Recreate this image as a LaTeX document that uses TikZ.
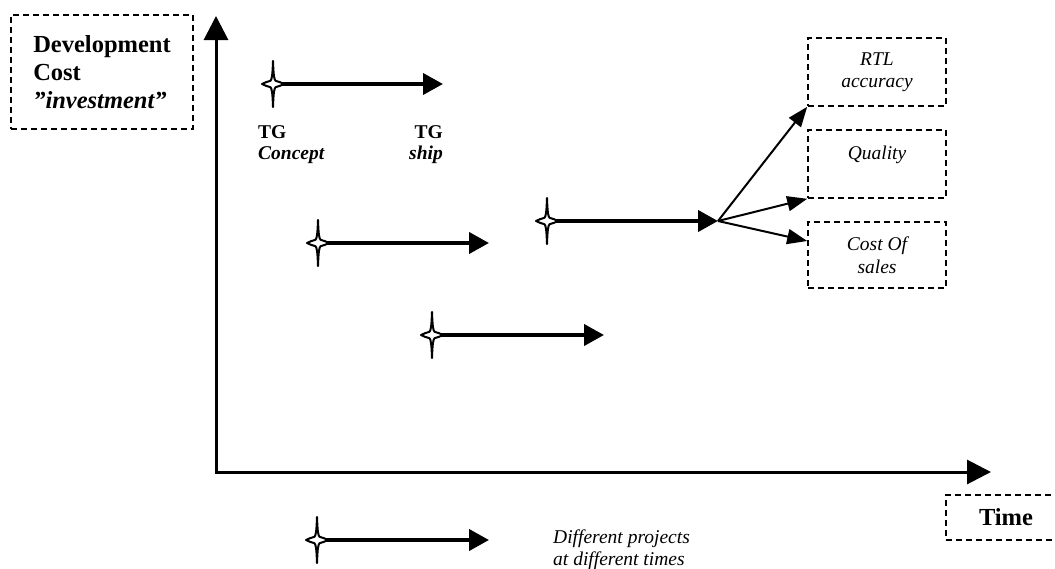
\documentclass[tikz,border=0pt]{standalone}
\usepackage{fontspec}
\setmainfont{Liberation Serif}
\usetikzlibrary{arrows.meta}

\begin{document}
\begin{tikzpicture}[x=1pt,y=-1pt,
  dashbox/.style={draw, line width=1.6pt, dash pattern=on 6pt off 4pt, inner sep=0pt},
  axis/.style={line width=3pt, {Triangle[length=24pt,width=24pt]}-{Triangle[length=24pt,width=24pt]}},
  proj/.style={line width=4pt, -{Triangle[length=20pt,width=21pt]}},
  fanarrow/.style={line width=2pt, -{Triangle[length=20pt,width=15pt]}},
  bigfont/.style={font=\fontsize{24.5}{28}\selectfont\bfseries},
  smallfont/.style={font=\fontsize{19.5}{22.5}\selectfont\itshape},
  tgfont/.style={font=\fontsize{19.5}{21}\selectfont\bfseries},
  % four-pointed milestone star: long vertical spikes, short horizontal lens
  pics/sparkle/.style={code={
    \filldraw[fill=white, line width=2pt, line join=round]
      (0,-23) .. controls (0.5,-8) and (1.2,-4.5) .. (2.6,-3.2)
              .. controls (5.5,-2.6) and (8.5,-1.2) .. (11,0)
              .. controls (8.5,1.2) and (5.5,2.6) .. (2.6,3.2)
              .. controls (1.2,4.5) and (0.5,8) .. (0,23)
              .. controls (-0.5,8) and (-1.2,4.5) .. (-2.6,3.2)
              .. controls (-5.5,2.6) and (-8.5,1.2) .. (-11,0)
              .. controls (-8.5,-1.2) and (-5.5,-2.6) .. (-2.6,-3.2)
              .. controls (-1.2,-4.5) and (-0.5,-8) .. (0,-23) -- cycle;
  }}
]
\clip (0,0) rectangle (1055,568);
\useasboundingbox (0,0) rectangle (1055,568);

% axes
\coordinate (origin) at (216,472);
\coordinate (ytip) at (216,16);
\coordinate (xtip) at (991,472);
\draw[axis] (ytip) -- (origin) -- (xtip);

% axis labels
\node[dashbox, bigfont, align=left, minimum width=182pt, minimum height=114pt]
  (devcost) at (102,72) {Development\\Cost\\\textit{”investment”}};
\node[dashbox, bigfont, minimum width=120pt, minimum height=45pt]
  (timebox) at (1006,517.5) {Time};

% project start points and end points
\coordinate (s1) at (273,84);  \coordinate (t1) at (443,84);
\coordinate (s2) at (318,243); \coordinate (t2) at (489,243);
\coordinate (s3) at (547,221); \coordinate (fan) at (718,221);
\coordinate (s4) at (432,335); \coordinate (t4) at (604,335);
\coordinate (s5) at (317,540); \coordinate (t5) at (489,540);

\draw[proj] (s1) -- (t1);
\draw[proj] (s2) -- (t2);
\draw[proj] (s3) -- (fan);
\draw[proj] (s4) -- (t4);
\draw[proj] (s5) -- (t5);

\foreach \s in {s1,s2,s3,s4,s5} \pic at (\s) {sparkle};

% milestone labels
\node[tgfont, align=left, anchor=north west, inner sep=0pt]
  (tgconcept) at (258,125) {TG\\\textit{Concept}};
\node[tgfont, align=right, anchor=north east, inner sep=0pt]
  (tgship) at (443,125) {TG\\\textit{ship}};

% outcome boxes
\node[dashbox, smallfont, align=center, minimum width=138pt, minimum height=68pt]
  (rtl) at (877,72) {RTL\\accuracy};
\node[dashbox, smallfont, align=center, minimum width=138pt, minimum height=68pt]
  (quality) at (877,164) {Quality\\\mbox{}};
\node[dashbox, smallfont, align=center, minimum width=138pt, minimum height=66pt]
  (cost) at (877,255) {Cost Of\\sales};

\draw[fanarrow] (fan) -- (rtl.south west);
\draw[fanarrow] (fan) -- (quality.south west);
\draw[fanarrow] (fan) -- ([yshift=14pt]cost.west);

% legend
\node[font=\fontsize{19.5}{21.5}\selectfont\itshape, align=left, anchor=north west, inner sep=0pt]
  (legend) at (553,530) {Different projects\\at different times};
\end{tikzpicture}
\end{document}
